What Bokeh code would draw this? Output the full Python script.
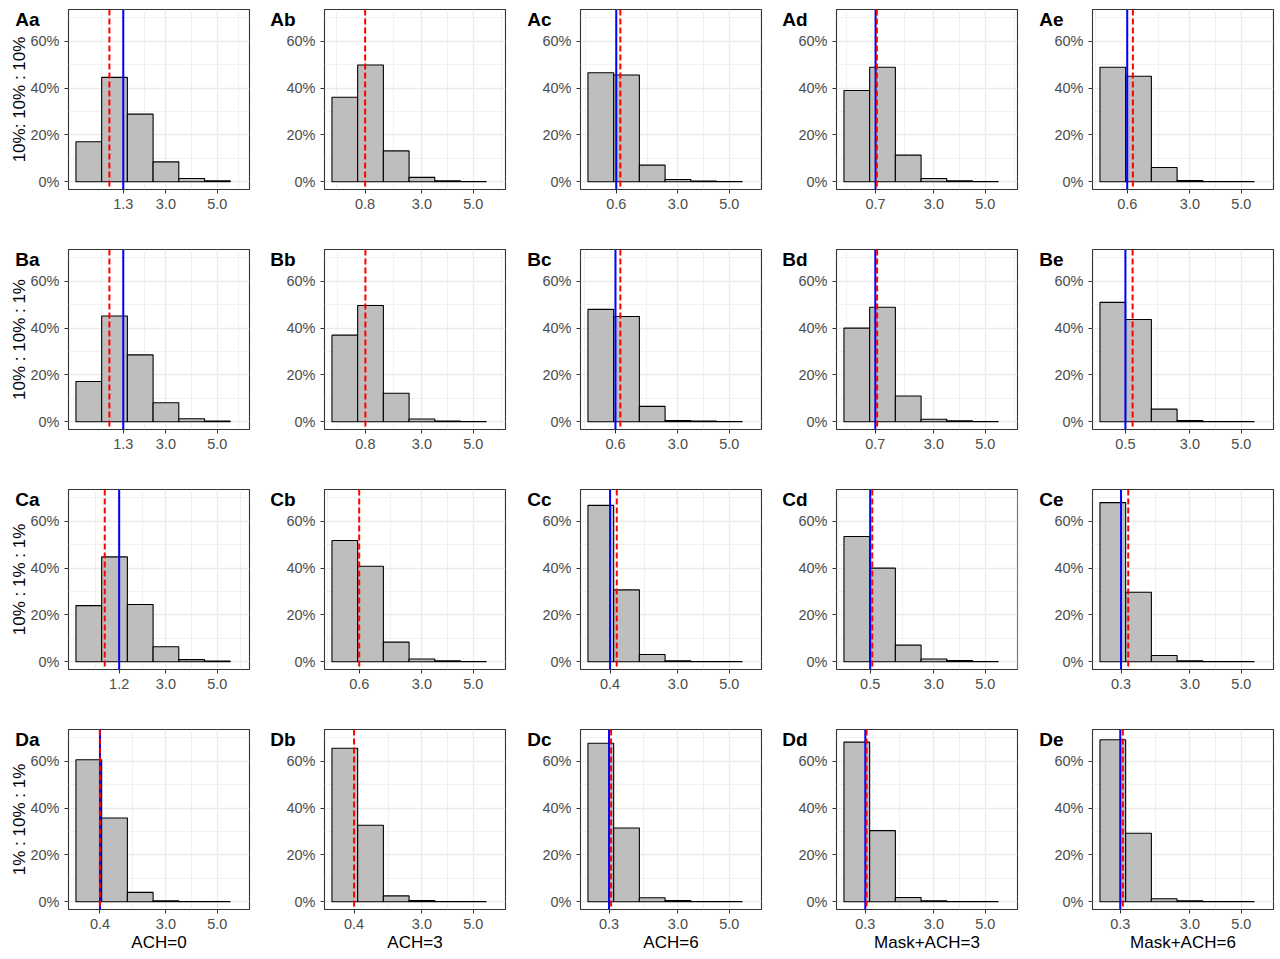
from bokeh.plotting import figure
from bokeh.layouts import gridplot
from bokeh.models import (FixedTicker, PrintfTickFormatter, Span, Range1d,
                          LinearAxis, CustomJSTickFormatter)
from bokeh.embed import file_html
from bokeh.resources import INLINE

# ---------------- data ----------------
row_ids = ["A", "B", "C", "D"]
col_ids = ["a", "b", "c", "d", "e"]
row_titles = ["10%: 10% : 10%", "10% : 10% : 1%", "10% : 1% : 1%", "1% : 10% : 1%"]
col_titles = ["ACH=0", "ACH=3", "ACH=6", "Mask+ACH=3", "Mask+ACH=6"]
bins = [0, 1, 2, 3, 4, 5]
x_breaks = [3.0, 5.0]
y_breaks = [0, 20, 40, 60]

pct_A = [[17.1, 44.6, 28.9, 8.5, 1.4, 0.4],
         [36.1, 49.9, 13.2, 1.9, 0.4, 0.1],
         [46.6, 45.6, 7.1, 1.0, 0.3, 0.1],
         [39.0, 48.9, 11.4, 1.4, 0.4, 0.1],
         [48.9, 45.1, 6.1, 0.5, 0.1, 0.05]]
pct_B = [[17.2, 45.2, 28.6, 8.1, 1.3, 0.3],
         [37.0, 49.7, 12.2, 1.2, 0.3, 0.1],
         [48.0, 45.0, 6.6, 0.5, 0.3, 0.1],
         [40.0, 48.9, 11.0, 1.1, 0.4, 0.1],
         [51.0, 43.7, 5.4, 0.5, 0.1, 0.05]]
pct_C = [[24.0, 44.8, 24.5, 6.4, 0.9, 0.3],
         [51.8, 40.8, 8.4, 1.2, 0.4, 0.1],
         [66.8, 30.7, 3.1, 0.4, 0.1, 0.05],
         [53.5, 40.0, 7.1, 1.2, 0.5, 0.1],
         [68.0, 29.7, 2.7, 0.4, 0.1, 0.05]]
pct_D = [[60.7, 35.8, 4.0, 0.4, 0.1, 0.05],
         [65.6, 32.7, 2.5, 0.5, 0.1, 0.05],
         [67.7, 31.5, 1.7, 0.5, 0.1, 0.05],
         [68.2, 30.4, 1.8, 0.4, 0.1, 0.05],
         [69.2, 29.3, 1.3, 0.4, 0.1, 0.05]]

red_A = [0.80, 0.79, 0.76, 0.78, 0.78]
red_B = [0.80, 0.80, 0.76, 0.79, 0.77]
red_C = [0.62, 0.56, 0.62, 0.60, 0.60]
red_D = [0.43, 0.36, 0.40, 0.38, 0.39]

blue_A = [1.34, None, 0.60, 0.73, 0.56]
blue_B = [1.34, None, 0.57, 0.72, 0.49]
blue_C = [1.18, None, 0.36, 0.52, 0.32]
blue_D = [0.435, None, 0.32, 0.33, 0.29]

pcts = [pct_A, pct_B, pct_C, pct_D]
reds = [red_A, red_B, red_C, red_D]
blues = [blue_A, blue_B, blue_C, blue_D]

# ---------------- style ----------------
FONT = "Liberation Sans"
X0, X1 = -0.79, 6.25
Y0, Y1 = -3.3, 73.6
FRAME_W, FRAME_H = 181, 180
GRID = "#EBEBEB"


def minor_breaks(b, lo, hi):
    bd = b[1] - b[0]
    bb = list(b)
    if lo < bb[0]:
        bb = [bb[0] - bd] + bb
    if hi > bb[-1]:
        bb = bb + [bb[-1] + bd]
    out = []
    for a, c in zip(bb[:-1], bb[1:]):
        out.append((a + c) / 2)
    return [m for m in out if lo <= m <= hi]


def style_axis(ax):
    ax.axis_line_color = None
    ax.major_tick_line_color = "#333333"
    ax.major_tick_line_width = 1
    ax.major_tick_out = 4
    ax.major_tick_in = 0
    ax.minor_tick_line_color = None
    ax.major_label_text_color = "#4D4D4D"
    ax.major_label_text_font = FONT
    ax.major_label_text_font_size = "14.5px"
    ax.axis_label_text_font = FONT
    ax.axis_label_text_font_size = "17px"
    ax.axis_label_text_font_style = "normal"
    ax.axis_label_text_color = "#000000"


def make_panel(r, c):
    last_row = r == len(row_ids) - 1
    height = 239 if last_row else 240
    p = figure(width=256, height=height, output_backend="svg", toolbar_location=None,
               x_range=Range1d(X0, X1), y_range=Range1d(Y0, Y1),
               min_border_left=68, min_border_right=7,
               min_border_top=9, min_border_bottom=50 if last_row else 51,
               background_fill_color="white", border_fill_color="white")
    p.outline_line_color = "#333333"
    p.outline_line_width = 1.1

    vals = pcts[r][c]
    red = reds[r][c]
    blue = blues[r][c]
    tick = blue if blue is not None else red
    xt = [tick] + x_breaks
    p.xaxis.ticker = FixedTicker(ticks=xt, minor_ticks=minor_breaks(xt, X0, X1))
    p.xaxis.formatter = PrintfTickFormatter(format="%.1f")
    p.yaxis.ticker = FixedTicker(ticks=y_breaks, minor_ticks=minor_breaks(y_breaks, Y0, Y1))
    p.yaxis.major_label_overrides = {v: f"{v}%" for v in y_breaks}

    style_axis(p.xaxis[0])
    style_axis(p.yaxis[0])
    p.xaxis.major_label_standoff = 5
    p.yaxis.major_label_standoff = 5
    if last_row:
        p.xaxis.axis_label = col_titles[c]
        p.xaxis.axis_label_standoff = 1

    # panel tag (and, in the first column, the row title) on an extra left axis
    ppy = FRAME_H / (Y1 - Y0)
    tag_y = Y1 - 10.2 / ppy
    tag = row_ids[r] + col_ids[c]
    tag_axis = LinearAxis(ticker=FixedTicker(ticks=[tag_y], minor_ticks=[]),
                          formatter=CustomJSTickFormatter(code=f"return '{tag}';"))
    style_axis(tag_axis)
    tag_axis.major_tick_line_color = None
    tag_axis.major_tick_out = 0
    tag_axis.major_label_standoff = -12
    tag_axis.major_label_text_font_size = "19px"
    tag_axis.major_label_text_font_style = "bold"
    tag_axis.major_label_text_color = "#000000"
    if c == 0:
        tag_axis.axis_label = row_titles[r]
        tag_axis.axis_label_standoff = -17
    p.add_layout(tag_axis, "left")

    for g in (p.xgrid[0], p.ygrid[0]):
        g.grid_line_color = GRID
        g.grid_line_width = 1.3
        g.minor_grid_line_color = GRID
        g.minor_grid_line_width = 0.7

    p.vbar(x=bins, top=vals, bottom=0, width=1, fill_color="#BEBEBE",
           line_color="black", line_width=1.1)

    if blue is not None:
        p.add_layout(Span(location=blue, dimension="height", line_color="#0000FF", line_width=2))
    p.add_layout(Span(location=red, dimension="height", line_color="#FF0000",
                      line_width=2, line_dash="6 3"))
    return p


grid = [[make_panel(r, c) for c in range(len(col_ids))] for r in range(len(row_ids))]
layout = gridplot(grid, toolbar_location=None)

open("out.html", "w").write(file_html(layout, INLINE))
